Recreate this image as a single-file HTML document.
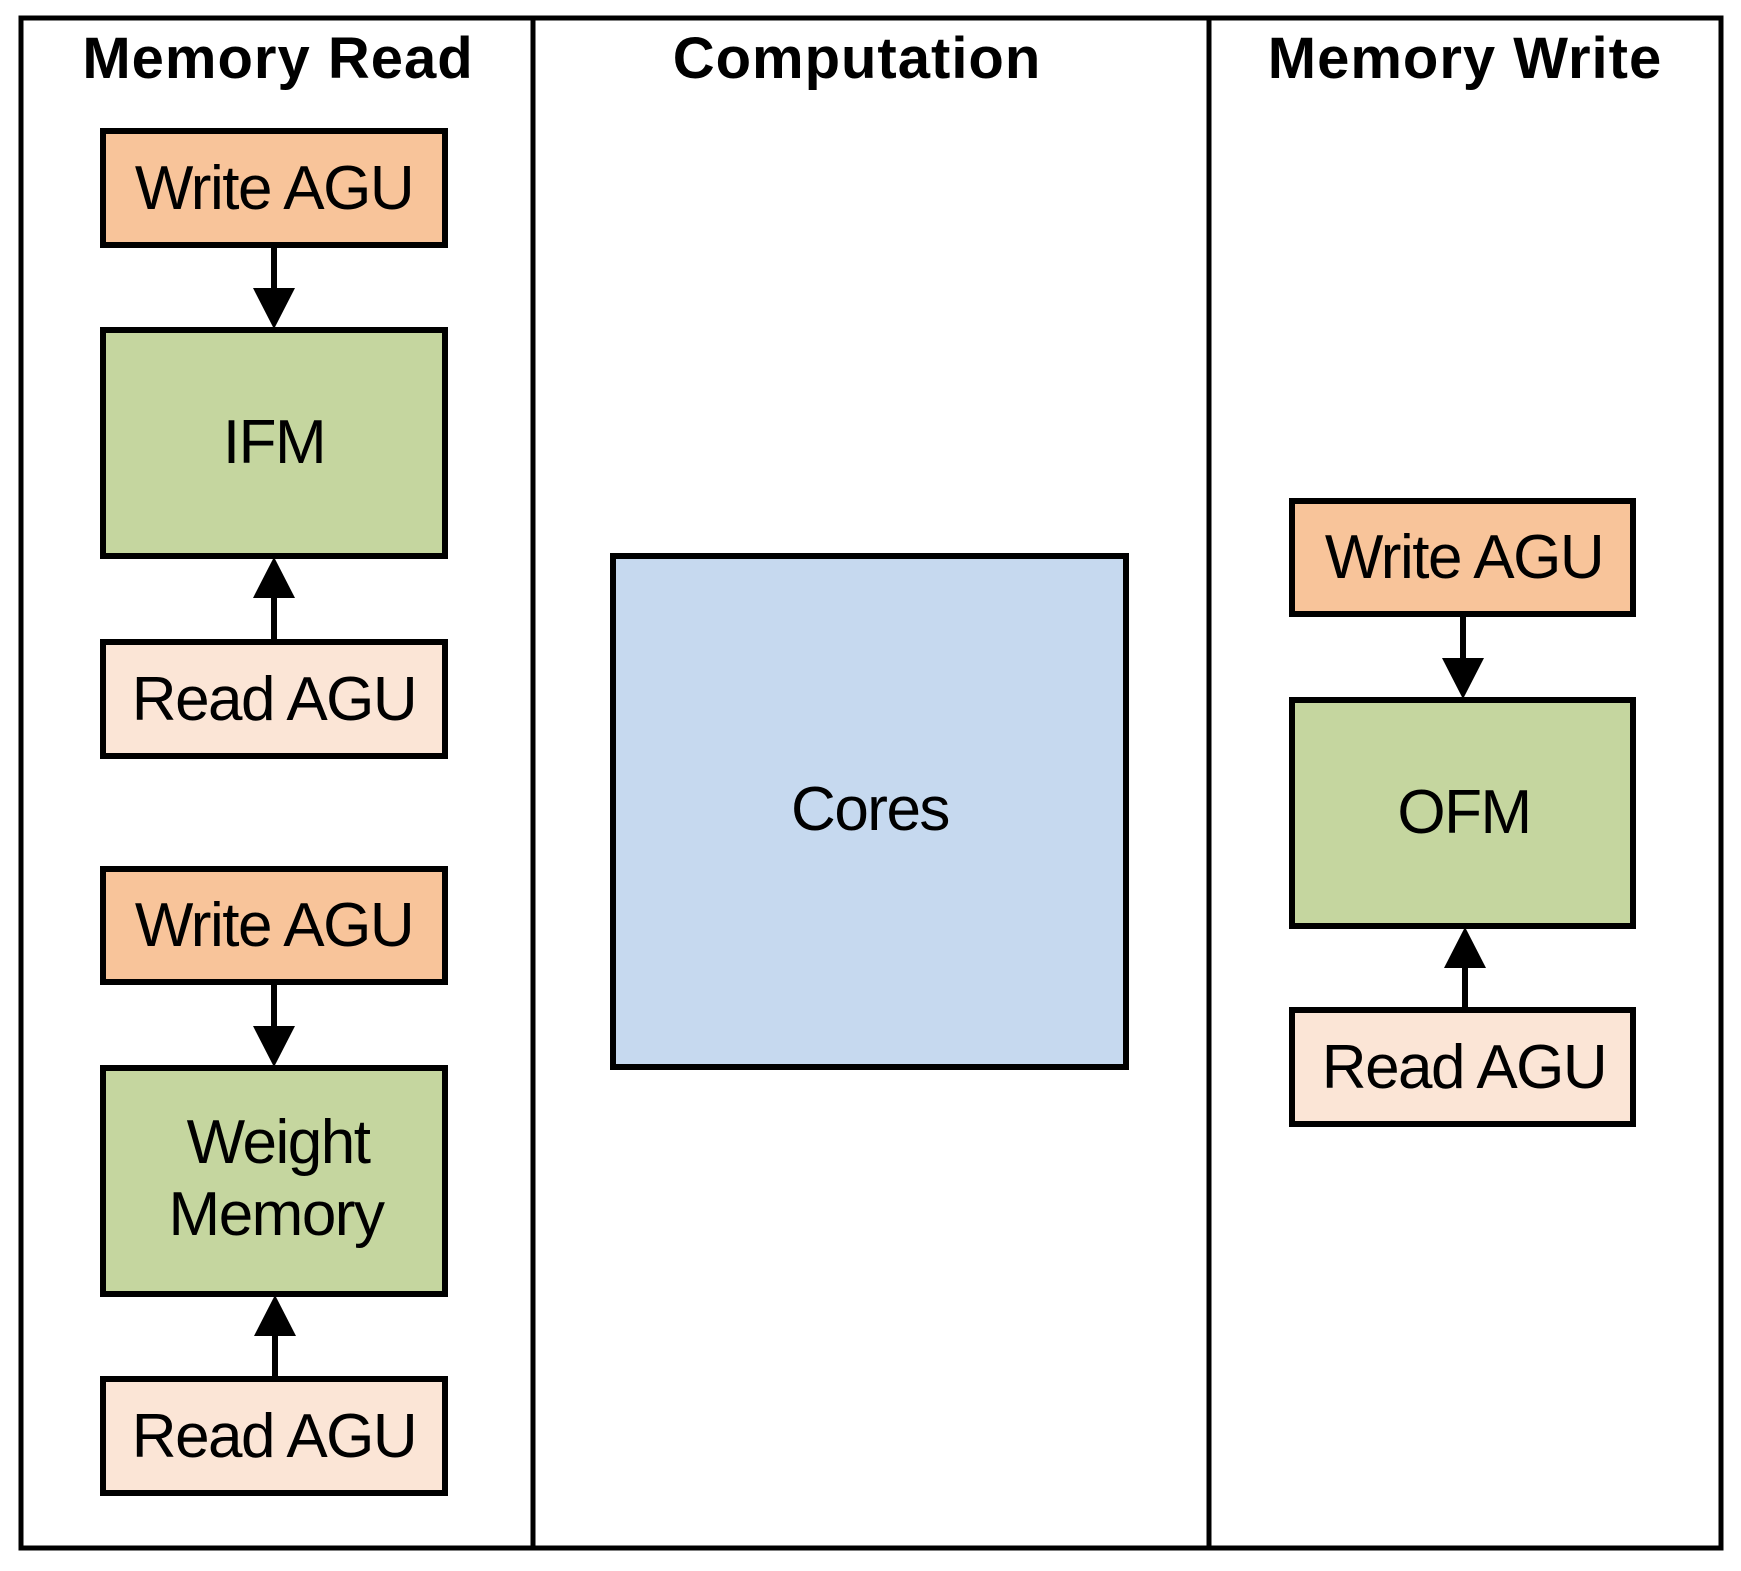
<!DOCTYPE html>
<html><head><style>
body{margin:0;background:#fff;}
svg{display:block;}
text{font-family:"Liberation Sans",Arial,sans-serif;fill:#000;}
.t{font-weight:bold;font-size:58px;letter-spacing:1px;}
.l{font-size:62px;letter-spacing:-1.5px;}
</style></head><body>
<svg width="1741" height="1571" viewBox="0 0 1741 1571">
<g stroke="#000" stroke-width="5" fill="none">
<rect x="21" y="18" width="1700" height="1530"/>
<line x1="533" y1="18" x2="533" y2="1548"/>
<line x1="1209" y1="18" x2="1209" y2="1548"/>
</g>
<text class="t" x="278" y="78" text-anchor="middle">Memory Read</text>
<text class="t" x="857" y="78" text-anchor="middle">Computation</text>
<text class="t" x="1465" y="78" text-anchor="middle">Memory Write</text>
<g stroke="#000" stroke-width="6">
<rect x="103" y="131" width="342" height="114" fill="#F8C49A"/>
<rect x="103" y="330" width="342" height="226" fill="#C5D69F"/>
<rect x="103" y="642" width="342" height="114" fill="#FBE5D6"/>
<rect x="103" y="869" width="342" height="113" fill="#F8C49A"/>
<rect x="103" y="1068" width="342" height="226" fill="#C5D69F"/>
<rect x="103" y="1379" width="342" height="114" fill="#FBE5D6"/>
<rect x="613" y="556" width="513" height="511" fill="#C6D9EF"/>
<rect x="1292" y="501" width="341" height="113" fill="#F8C49A"/>
<rect x="1292" y="700" width="341" height="226" fill="#C5D69F"/>
<rect x="1292" y="1010" width="341" height="114" fill="#FBE5D6"/>
</g>
<g stroke="#000" stroke-width="6">
<line x1="274" y1="245" x2="274" y2="295"/>
<line x1="274" y1="642" x2="274" y2="592"/>
<line x1="274" y1="982" x2="274" y2="1033"/>
<line x1="275" y1="1379" x2="275" y2="1330"/>
<line x1="1463" y1="614" x2="1463" y2="665"/>
<line x1="1465" y1="1010" x2="1465" y2="962"/>
</g>
<g fill="#000">
<polygon points="253,288 295,288 274,329"/>
<polygon points="253,598 295,598 274,557"/>
<polygon points="253,1026 295,1026 274,1067"/>
<polygon points="254,1336 296,1336 275,1295"/>
<polygon points="1442,658 1484,658 1463,699"/>
<polygon points="1444,968 1486,968 1465,927"/>
</g>
<g class="l" text-anchor="middle">
<text x="274" y="209">Write AGU</text>
<text x="274" y="463">IFM</text>
<text x="274" y="720">Read AGU</text>
<text x="274" y="946">Write AGU</text>
<text x="278" y="1163">Weight</text>
<text x="276" y="1235">Memory</text>
<text x="274" y="1457">Read AGU</text>
<text x="870" y="830">Cores</text>
<text x="1464" y="578">Write AGU</text>
<text x="1464" y="833">OFM</text>
<text x="1464" y="1088">Read AGU</text>
</g>
</svg>
</body></html>
